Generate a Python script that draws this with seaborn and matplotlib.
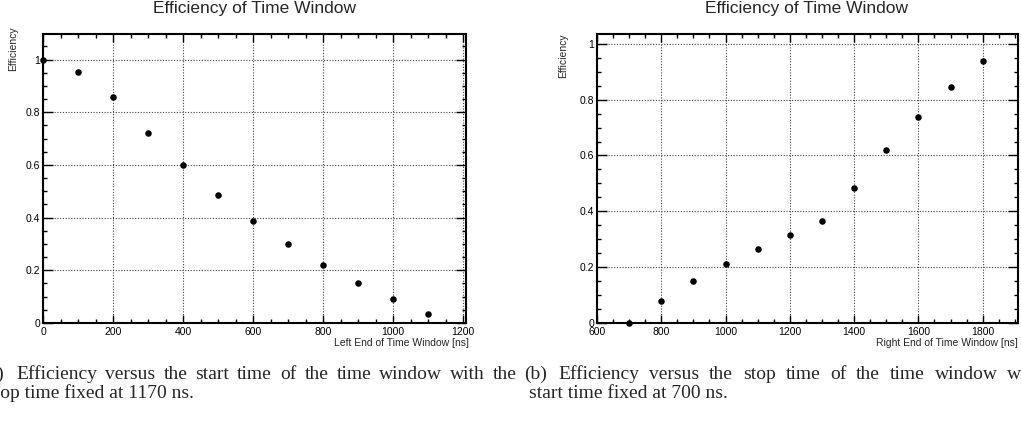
import numpy as np
import pandas as pd
import seaborn as sns
import matplotlib.pyplot as plt
from matplotlib.ticker import MultipleLocator, FuncFormatter

# donnees
debut_fenetre = [0, 100, 200, 300, 400, 500, 600, 700, 800, 900, 1000, 1100]
eff_debut = [1.0, 0.952, 0.857, 0.722, 0.598, 0.487, 0.389, 0.300, 0.222, 0.152, 0.092, 0.036]

fin_fenetre = [700, 800, 900, 1000, 1100, 1200, 1300, 1400, 1500, 1600, 1700, 1800]
eff_fin = [0.0, 0.079, 0.149, 0.210, 0.265, 0.314, 0.367, 0.484, 0.618, 0.737, 0.844, 0.939]

titre = "Efficiency of Time Window"
label_y = "Efficiency"
label_x_gauche = "Left End of Time Window [ns]"
label_x_droite = "Right End of Time Window [ns]"
legende_a = ["(a)", "Efficiency versus the start time of the time window with the",
             "stop time fixed at 1170 ns."]
legende_b = ["(b)", "Efficiency versus the stop time of the time window with the",
             "start time fixed at 700 ns."]

W, H = 1021, 428


def style_root(ax, xlim, ylim):
    ax.set_xlim(*xlim)
    ax.set_ylim(*ylim)
    ax.xaxis.set_major_locator(MultipleLocator(200))
    ax.xaxis.set_minor_locator(MultipleLocator(50))
    ax.yaxis.set_major_locator(MultipleLocator(0.2))
    ax.yaxis.set_minor_locator(MultipleLocator(0.05))
    fmt = FuncFormatter(lambda v, p: "%g" % round(v, 6))
    ax.xaxis.set_major_formatter(fmt)
    ax.yaxis.set_major_formatter(fmt)
    ax.tick_params(which="both", direction="in", top=True, right=True,
                   labelsize=7.5, width=1.0, colors="black", pad=2)
    ax.tick_params(axis="x", which="major", length=6, pad=3)
    ax.tick_params(axis="y", which="major", length=7)
    ax.tick_params(which="minor", length=3)
    ax.grid(True, which="major", color="#444444", linestyle=(0, (1, 1.5)), linewidth=0.8)
    for s in ax.spines.values():
        s.set_linewidth(1.5)
        s.set_color("black")
    ax.set_xlabel("")
    ax.set_ylabel("")


def ligne_justifiee(fig, texte, x0, x1, y, **kw):
    # place les mots un par un pour remplir x0..x1 (justification LaTeX)
    rend = fig.canvas.get_renderer()
    mots = [fig.text(0, 1 - y / H, m, **kw) for m in texte.split()]
    largeurs = [m.get_window_extent(rend).width for m in mots]
    espace = (x1 - x0 - sum(largeurs)) / (len(mots) - 1)
    x = x0
    for m, l in zip(mots, largeurs):
        m.set_x(x / W)
        x += l + espace


def main():
    sns.set_style("ticks")
    plt.rcParams["font.family"] = ["Liberation Sans", "DejaVu Sans"]

    df_a = pd.DataFrame({"x": debut_fenetre, "eff": eff_debut})
    df_b = pd.DataFrame({"x": fin_fenetre, "eff": eff_fin})

    fig = plt.figure(figsize=(W / 100, H / 100), dpi=100)
    ax1 = fig.add_axes([43 / W, 1 - 323 / H, 423 / W, 289 / H])
    ax2 = fig.add_axes([597 / W, 1 - 323 / H, 421 / W, 289 / H])

    sns.scatterplot(data=df_a, x="x", y="eff", ax=ax1, color="black", s=22,
                    edgecolor="black", linewidth=0, clip_on=False, zorder=4)
    sns.scatterplot(data=df_b, x="x", y="eff", ax=ax2, color="black", s=22,
                    edgecolor="black", linewidth=0, clip_on=False, zorder=4)

    style_root(ax1, (0, 1208), (0, 1.097))
    style_root(ax2, (600, 1910), (0, 1.035))

    # labels facon ROOT
    ax1.text(-0.071, 1.028, label_y, transform=ax1.transAxes, rotation=90,
             ha="center", va="top", fontsize=7.5)
    ax2.text(-0.081, 1.003, label_y, transform=ax2.transAxes, rotation=90,
             ha="center", va="top", fontsize=7.5)
    ax1.text(1.007, -0.069, label_x_gauche, transform=ax1.transAxes,
             ha="right", va="center", fontsize=7.5)
    ax2.text(1.0, -0.069, label_x_droite, transform=ax2.transAxes,
             ha="right", va="center", fontsize=7.5)

    fig.text(254 / W, 1 - 8.5 / H, titre, ha="center", va="center", fontsize=12.5)
    fig.text(806 / W, 1 - 8.5 / H, titre, ha="center", va="center", fontsize=12.5)

    # legendes en serif, coupees sur les bords comme l'original
    serif = dict(fontsize=14, family="Liberation Serif", va="baseline", ha="left")
    for x0, larg, lignes in [(-18, 535, legende_a), (524, 552, legende_b)]:
        fig.text(x0 / W, 1 - 379 / H, lignes[0], **serif)
        ligne_justifiee(fig, lignes[1], x0 + 34, x0 + larg, 379, **serif)
        fig.text((x0 + 5) / W, 1 - 398 / H, lignes[2], **serif)

    fig.savefig("out.png", dpi=100, facecolor="white")


if __name__ == "__main__":
    main()
